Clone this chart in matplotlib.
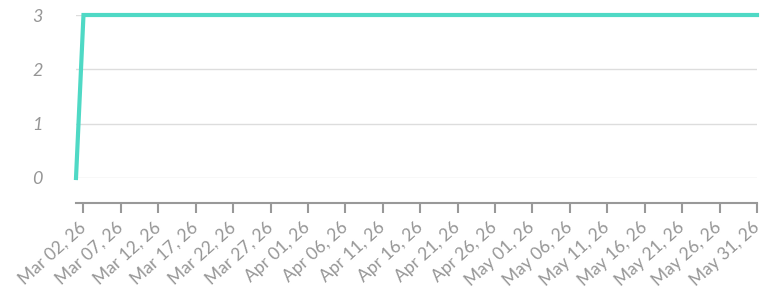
import numpy as np
import pandas as pd
import matplotlib
matplotlib.use("Agg")
import matplotlib.pyplot as plt
import matplotlib.dates as mdates

# data
dates = pd.to_datetime(["2026-03-01", "2026-03-02", "2026-05-31"])
values = [0, 3, 3]
tick_dates = pd.date_range("2026-03-02", "2026-05-31", freq="5D")
y_ticks = [0, 1, 2, 3]

line_color = "#4fd9c5"
text_color = "#969696"

fig = plt.figure(figsize=(7.65, 2.95), dpi=100)
ax = fig.add_axes([76 / 765, 1 - 178 / 295, (757 - 76) / 765, 163 / 295])

ax.plot(dates, values, color=line_color, linewidth=3, solid_joinstyle="miter", clip_on=False, zorder=3)

ax.set_xlim(dates[0], dates[-1])
ax.set_ylim(0, 3)

ax.set_yticks(y_ticks)
ax.grid(axis="y", color="#dddddd", linewidth=1)
ax.set_axisbelow(True)

ax.set_xticks(tick_dates)
ax.set_xticklabels([d.strftime("%b %d, %y") for d in tick_dates])

for s in ["top", "right", "left"]:
    ax.spines[s].set_visible(False)
ax.spines["bottom"].set_position(("outward", 18))
ax.spines["bottom"].set_color("#999999")
ax.spines["bottom"].set_linewidth(1.5)

ax.tick_params(axis="y", length=0, pad=24, labelcolor=text_color, labelsize=13)
ax.tick_params(axis="x", length=7, width=1.5, color="#999999", pad=9,
               labelcolor=text_color, labelsize=12.5)

for lab in ax.get_yticklabels():
    lab.set_fontfamily("Lato")
    lab.set_fontstyle("italic")
for lab in ax.get_xticklabels():
    lab.set_fontfamily("Lato")
    lab.set_rotation(42)
    lab.set_ha("right")
    lab.set_va("center")
    lab.set_rotation_mode("anchor")

fig.savefig("out.png", dpi=100, facecolor="white")
